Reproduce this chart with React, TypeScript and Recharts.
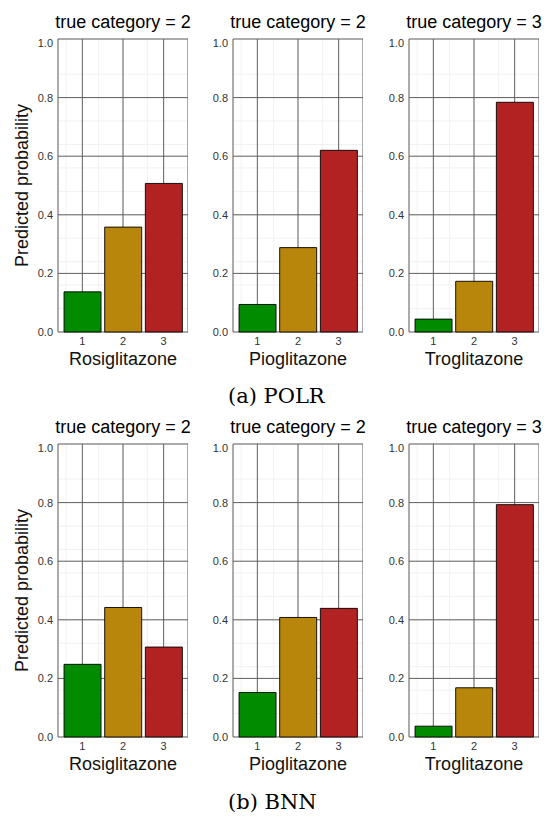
import { BarChart, Bar, XAxis, YAxis, CartesianGrid, Cell } from 'recharts'

const categories = ['1', '2', '3']
const categoryPos = [1, 2, 3]
const drugs = ['Rosiglitazone', 'Pioglitazone', 'Troglitazone']
const trueCategories = [2, 2, 3]

// POLR predicted probabilities
const polrRosiglitazone = [0.137, 0.358, 0.507]
const polrPioglitazone = [0.094, 0.288, 0.62]
const polrTroglitazone = [0.044, 0.173, 0.784]

// BNN predicted probabilities
const bnnRosiglitazone = [0.248, 0.442, 0.307]
const bnnPioglitazone = [0.152, 0.408, 0.439]
const bnnTroglitazone = [0.037, 0.168, 0.793]

const barColors = ['#008b00', '#b8860b', '#b22222']
const yTicks = [0, 0.2, 0.4, 0.6, 0.8, 1]
const yMinorTicks = [
    0, 0.04, 0.08, 0.12, 0.16, 0.2, 0.24, 0.28, 0.32, 0.36, 0.4, 0.44, 0.48,
    0.52, 0.56, 0.6, 0.64, 0.68, 0.72, 0.76, 0.8, 0.84, 0.88, 0.92, 0.96, 1,
]
const xMinorTicks = [
    0.4, 0.6, 0.8, 1, 1.2, 1.4, 1.6, 1.8, 2, 2.2, 2.4, 2.6, 2.8, 3, 3.2, 3.4, 3.6,
]

const SANS = '"Liberation Sans", Arial, sans-serif'
const PLOT_H = 293
const YAXIS_W = 58
const PLOT_W = 130
const XAXIS_H = 42
const colLefts = [0, 175, 351]
const rowTops = [39, 444]

interface PanelProps {
    values: number[]
    drug: string
    trueCat: number
    left: number
    plotTop: number
    showYLabel: boolean
}

function Panel({ values, drug, trueCat, left, plotTop, showYLabel }: PanelProps) {
    const data = categories.map((cat, i) => ({
        cat,
        pos: categoryPos[i],
        prob: values[i],
    }))

    return (
        <>
            <div
                style={{
                    position: 'absolute',
                    left: left + YAXIS_W - 20,
                    width: PLOT_W + 40,
                    top: plotTop - 26,
                    textAlign: 'center',
                    fontFamily: SANS,
                    fontSize: 18,
                    lineHeight: '18px',
                    color: '#000',
                    whiteSpace: 'nowrap',
                }}
            >
                true category = {trueCat}
            </div>
            <div style={{ position: 'absolute', left, top: plotTop - 2, fontFamily: SANS }}>
                <BarChart
                    width={YAXIS_W + PLOT_W}
                    height={2 + PLOT_H + XAXIS_H + 2}
                    data={data}
                    margin={{ top: 2, right: 0, bottom: 2, left: 0 }}
                    barCategoryGap="5%"
                >
                    <XAxis
                        xAxisId="grid"
                        type="number"
                        dataKey="pos"
                        domain={[0.4, 3.6]}
                        ticks={xMinorTicks}
                        allowDataOverflow
                        hide
                    />
                    <YAxis
                        yAxisId="minor"
                        type="number"
                        dataKey="prob"
                        domain={[0, 1]}
                        ticks={yMinorTicks}
                        allowDataOverflow
                        hide
                    />
                    <CartesianGrid
                        xAxisId="grid"
                        yAxisId="minor"
                        stroke="#ebebeb"
                        strokeWidth={0.7}
                    />
                    <XAxis
                        xAxisId="cat"
                        dataKey="cat"
                        height={XAXIS_H}
                        padding={{ left: 4, right: 4 }}
                        axisLine={false}
                        tickLine={false}
                        tickSize={3}
                        tickMargin={2}
                        tick={{ fontSize: 11, fill: '#333' }}
                        label={{
                            value: drug,
                            position: 'insideBottom',
                            offset: XAXIS_H - 33,
                            fontSize: 18,
                            fill: '#111',
                        }}
                    />
                    <YAxis
                        yAxisId="main"
                        width={YAXIS_W}
                        domain={[0, 1]}
                        ticks={yTicks}
                        tickFormatter={(v: number) => v.toFixed(1)}
                        axisLine={false}
                        tickLine={false}
                        tickSize={3}
                        tickMargin={2}
                        tick={{ fontSize: 11, fill: '#333' }}
                        label={
                            showYLabel
                                ? {
                                      value: 'Predicted probability',
                                      angle: -90,
                                      position: 'insideLeft',
                                      offset: 22,
                                      fontSize: 18,
                                      fill: '#111',
                                      style: { textAnchor: 'middle' },
                                  }
                                : undefined
                        }
                    />
                    <CartesianGrid xAxisId="cat" yAxisId="main" stroke="#5e5e5e" strokeWidth={1} />
                    <Bar
                        xAxisId="cat"
                        yAxisId="main"
                        dataKey="prob"
                        stroke="#000"
                        strokeWidth={0.9}
                        isAnimationActive={false}
                    >
                        {data.map((d, i) => (
                            <Cell key={d.cat} fill={barColors[i]} />
                        ))}
                    </Bar>
                </BarChart>
            </div>
        </>
    )
}

const polrRows = [polrRosiglitazone, polrPioglitazone, polrTroglitazone]
const bnnRows = [bnnRosiglitazone, bnnPioglitazone, bnnTroglitazone]

export default function App() {
    const caption = (text: string, top: number) => (
        <div
            style={{
                position: 'absolute',
                left: 228,
                top,
                fontFamily: '"DejaVu Serif", serif',
                fontSize: 21,
                lineHeight: '21px',
                color: '#000',
                whiteSpace: 'nowrap',
            }}
        >
            {text}
        </div>
    )

    return (
        <div
            style={{
                position: 'absolute',
                left: 0,
                top: 0,
                width: 549,
                height: 817,
                background: '#fff',
                overflow: 'hidden',
            }}
        >
            {[polrRows, bnnRows].map((rows, r) =>
                rows.map((values, c) => (
                    <Panel
                        key={`${r}-${c}`}
                        values={values}
                        drug={drugs[c]}
                        trueCat={trueCategories[c]}
                        left={colLefts[c]}
                        plotTop={rowTops[r]}
                        showYLabel={c === 0}
                    />
                ))
            )}
            {caption('(a) POLR', 386)}
            {caption('(b) BNN', 792)}
        </div>
    )
}
